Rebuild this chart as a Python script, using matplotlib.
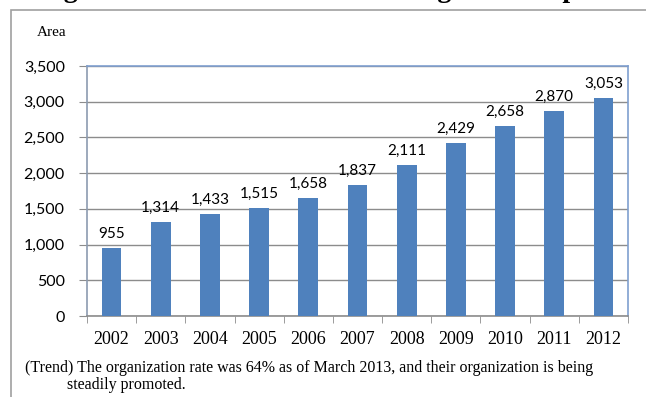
import matplotlib.pyplot as plt
from matplotlib.patches import Rectangle

years = ["2002", "2003", "2004", "2005", "2006", "2007",
         "2008", "2009", "2010", "2011", "2012"]
area = [955, 1314, 1433, 1515, 1658, 1837, 2111, 2429, 2658, 2870, 3053]
y_ticks = [0, 500, 1000, 1500, 2000, 2500, 3000, 3500]

bar_color = "#4F81BD"
sans = ["Lato", "DejaVu Sans"]
serif = ["Liberation Serif", "DejaVu Serif"]

fig = plt.figure(figsize=(6.46, 3.97), dpi=100)
W, H = 646, 397

# outer frame of the figure box
fig.patches.append(Rectangle((11 / W, -0.05), 1.0, 1 - 10 / H + 0.05,
                             transform=fig.transFigure, fill=False,
                             edgecolor="#A0A0A0", linewidth=1.2))

# heading line, only its lower edge falls inside the figure
fig.text(0.06, 1 + 3 / H, "Figure 3-1  Status of Consolidating Land Improvement Districts",
         family=serif, fontsize=20, fontweight="bold", va="baseline", ha="left")

ax = fig.add_axes([87 / W, 1 - 316 / H, (628 - 87) / W, (316 - 66) / H])
x = range(len(years))
ax.bar(x, area, width=0.4, color=bar_color, zorder=3)
for i, v in zip(x, area):
    ax.annotate("{:,}".format(v), (i, v), xytext=(0, 5), textcoords="offset points",
                ha="center", va="bottom", family=sans, fontsize=11)

ax.set_xlim(-0.5, len(years) - 0.5)
ax.set_ylim(0, 3500)
ax.set_yticks(y_ticks)
ax.set_yticklabels(["{:,}".format(t) for t in y_ticks], family=sans, fontsize=11.5)
ax.set_xticks(list(x))
ax.set_xticklabels(years, family=serif, fontsize=13)
ax.tick_params(axis="x", length=0, pad=11)
ax.tick_params(axis="y", length=6, color="#8C8C8C", pad=10)
ax.set_xticks([i - 0.5 for i in range(len(years) + 1)], minor=True)
ax.tick_params(axis="x", which="minor", length=5, color="#8C8C8C", direction="out")
ax.grid(axis="y", color="#8C8C8C", linewidth=1, zorder=0)

for s in ["top", "right"]:
    ax.spines[s].set_color("#7F9FCF")
ax.spines["left"].set_color("#8C9BB0")
ax.spines["bottom"].set_color("#8C8C8C")
for s in ax.spines.values():
    s.set_linewidth(1.2)

fig.text(37 / W, 1 - 32 / H, "Area", family=serif, fontsize=11, va="center")
fig.text(25 / W, 1 - 368 / H,
         "(Trend) The organization rate was 64% as of March 2013, and their organization is being",
         family=serif, fontsize=11.5, va="center")
fig.text(67 / W, 1 - 385 / H, "steadily promoted.", family=serif, fontsize=11.5, va="center")

fig.savefig("out.png", dpi=100)
